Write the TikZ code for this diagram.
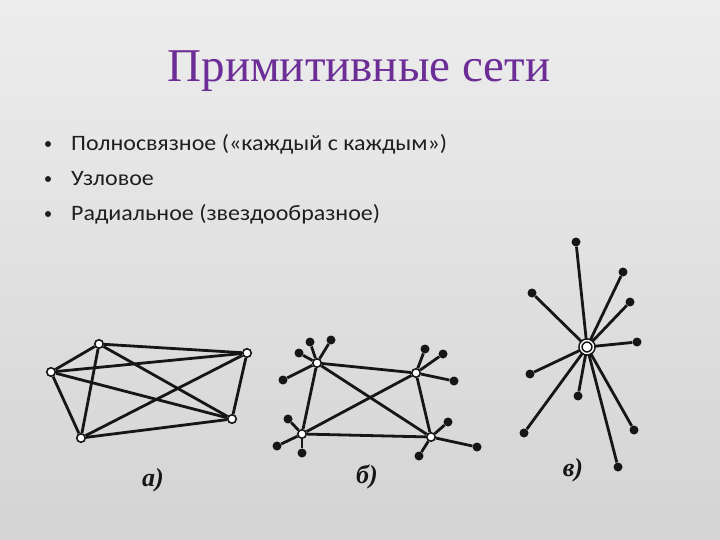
\documentclass[tikz,border=0pt]{standalone}
\usepackage{fontspec}
\setmainfont{Liberation Serif}
\newfontfamily\bodyfont[FakeStretch=1.09]{Carlito}
\definecolor{titlepurple}{RGB}{108,46,150}
\definecolor{netblack}{RGB}{22,22,22}
\tikzset{
  link/.style={netblack, line width=2.8pt},
  knot/.style={circle, draw=netblack, fill=white, line width=1.6pt, inner sep=0pt, minimum size=8.5pt},
  leaf/.style={circle, fill=netblack, inner sep=0pt, minimum size=9pt},
  caption/.style={font=\itshape\bfseries\fontsize{26}{26}\selectfont, netblack},
  bullet/.style={anchor=base west, inner sep=0pt, font=\bodyfont\fontsize{22}{22}\selectfont, text=black!88}
}
\begin{document}
\begin{tikzpicture}[x=1pt, y=-1pt]
                % Background
                \shade[top color=white!93!black, bottom color=white!83!black] (0,0) rectangle (720,540);
                \useasboundingbox (0,0) rectangle (720,540);
                % Title and list
                \node[titlepurple, anchor=base, inner sep=0pt, font=\fontsize{47}{47}\selectfont] (title) at (359,82) {Примитивные сети};
                \node[bullet] (l1) at (71,151) {Полносвязное («каждый с каждым»)};
                \node[bullet] (l2) at (71,186) {Узловое};
                \node[bullet] (l3) at (71,221) {Радиальное (звездообразное)};
                \fill[black!88] (48,144) circle (3pt);
                \fill[black!88] (48,179) circle (3pt);
                \fill[black!88] (48,214) circle (3pt);

                % Net a: every node to every node
                \node[knot] (a1) at (51,372) {};
                \node[knot] (a2) at (99,344) {};
                \node[knot] (a3) at (247,353) {};
                \node[knot] (a4) at (232,419) {};
                \node[knot] (a5) at (81,438) {};
                \foreach \s/\t in {a1/a2,a1/a3,a1/a4,a1/a5,a2/a3,a2/a4,a2/a5,a3/a4,a3/a5,a4/a5}
                    \draw[link] (\s) -- (\t);
                \node[caption] (capa) at (153,480) {а)};

                % Net b: four hubs with their leaves
                \node[knot] (P) at (317,363) {};
                \node[knot] (Q) at (416,373) {};
                \node[knot] (R) at (302,434) {};
                \node[knot] (S) at (431,437) {};
                \node[leaf] (P1) at (310,342) {};
                \node[leaf] (P2) at (331,340) {};
                \node[leaf] (P3) at (299,353) {};
                \node[leaf] (P4) at (283,380) {};
                \node[leaf] (Q1) at (425,349) {};
                \node[leaf] (Q2) at (443,354) {};
                \node[leaf] (Q3) at (454,381) {};
                \node[leaf] (R1) at (288,419) {};
                \node[leaf] (R2) at (277,446) {};
                \node[leaf] (R3) at (302,453) {};
                \node[leaf] (S1) at (448,422) {};
                \node[leaf] (S2) at (477,447) {};
                \node[leaf] (S3) at (419,456) {};
                \foreach \s/\t in {P/Q,R/S,P/R,Q/S,P/S,Q/R}
                    \draw[link] (\s) -- (\t);
                \foreach \h/\t in {P/P1,P/P2,P/P3,P/P4,Q/Q1,Q/Q2,Q/Q3,R/R1,R/R2,R/R3,S/S1,S/S2,S/S3}
                    \draw[link] (\h) -- (\t);
                \node[caption] (capb) at (367,477) {б)};

                % Net c: one centre
                \node[knot, minimum size=13pt, double, double distance=1.4pt] (O) at (587,347) {};
                \foreach \i/\p in {1/{576,242},2/{623,272},3/{532,293},4/{630,302},5/{637,342},
                                   6/{530,374},7/{578,396},8/{524,433},9/{634,430},10/{618,467}}
                {
                    \node[leaf] (c\i) at (\p) {};
                    \draw[link] (O) -- (c\i);
                }
                \node[caption] (capc) at (573,470) {в)};
\end{tikzpicture}
\end{document}
